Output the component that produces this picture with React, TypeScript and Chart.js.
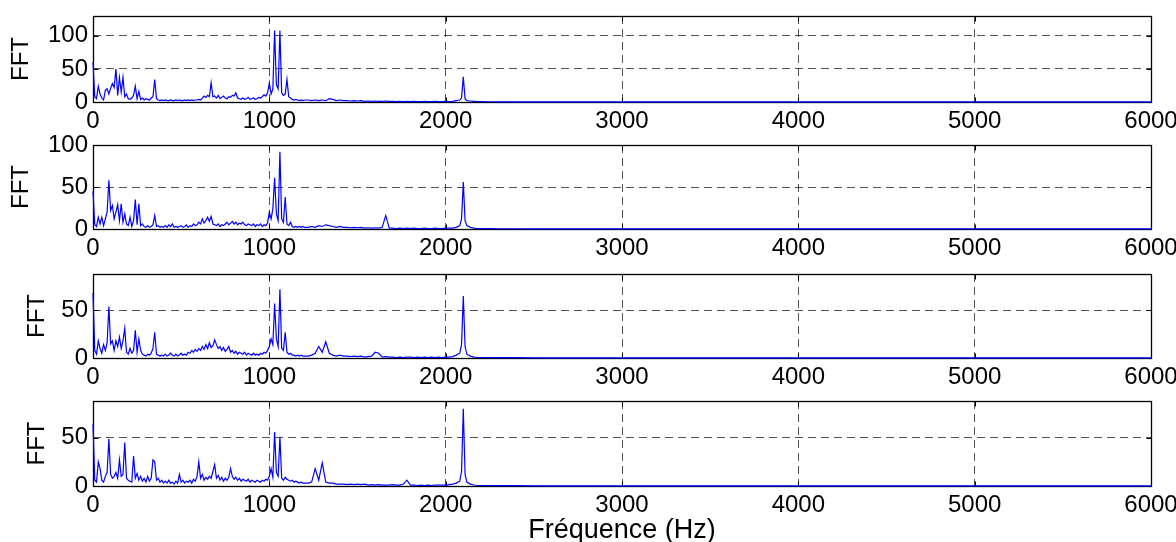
import React, { useEffect, useRef } from "react";
import { Chart, registerables } from "chart.js";
Chart.register(...registerables);

const FONT = "'Liberation Sans', Arial, Helvetica, sans-serif";

// Frequency grid (Hz)
const freqLow = [
  0, 10, 20, 30, 40, 50, 60, 70, 80, 90,
  100, 110, 120, 130, 140, 150, 160, 170, 180, 190,
  200, 210, 220, 230, 240, 250, 260, 270, 280, 290,
  300, 310, 320, 330, 340, 350, 360, 370, 380, 390,
  400, 410, 420, 430, 440, 450, 460, 470, 480, 490,
  500, 510, 520, 530, 540, 550, 560, 570, 580, 590,
  600, 610, 620, 630, 640, 650, 660, 670, 680, 690,
  700, 710, 720, 730, 740, 750, 760, 770, 780, 790,
  800, 810, 820, 830, 840, 850, 860, 870, 880, 890,
  900, 910, 920, 930, 940, 950, 960, 970, 980, 990,
  1000, 1010, 1020, 1030, 1040, 1050, 1060, 1070, 1080, 1090,
  1100, 1110, 1120, 1130, 1140, 1150, 1160, 1170, 1180, 1190,
  1200,
];
const freqMid = [
  1220, 1240, 1260, 1280, 1300, 1320, 1340, 1360, 1380, 1400,
  1420, 1440, 1460, 1480, 1500, 1520, 1540, 1560, 1580, 1600,
  1620, 1640, 1660, 1680, 1700, 1720, 1740, 1760, 1780, 1800,
  1820, 1840, 1860, 1880, 1900, 1920, 1940, 1960, 1980, 2000,
  2020, 2040, 2060, 2080, 2090, 2100, 2110, 2120, 2140, 2160, 2180, 2200,
];
const freqTail = [2250, 2300, 2400, 2500, 3000, 3500, 4000, 4500, 5000, 5500, 6000];
const ampTail = [0.4, 0.3, 0.3, 0.2, 0.2, 0.1, 0.1, 0.1, 0.1, 0.1, 0.1];

// Panel 1
const amp1Low = [
  60, 8, 5, 24, 12, 6, 3, 18, 20, 12,
  21, 28, 22, 50, 10, 37, 15, 37, 8, 12,
  5, 4, 6, 10, 24, 5, 16, 4, 6, 3,
  5, 4, 3, 6, 8, 34, 5, 3, 2, 3,
  2, 3, 2, 2, 3, 2, 2, 3, 2, 3,
  2, 2, 3, 2, 3, 2, 3, 2, 3, 3,
  4, 3, 6, 9, 7, 10, 8, 29, 8, 9,
  6, 10, 5, 7, 9, 6, 5, 8, 7, 10,
  9, 14, 6, 5, 4, 6, 4, 5, 7, 4,
  5, 6, 4, 5, 7, 6, 8, 11, 9, 14,
  29, 12, 20, 108, 26, 20, 108, 14, 10, 12,
  34, 8, 6, 4, 3, 4, 3, 2, 3, 2,
  3,
];
const amp1Mid = [
  3, 2, 3, 2, 3, 2, 5, 4, 2, 3,
  2, 2, 1.5, 2, 1.5, 2, 1, 1.5, 1, 1.5,
  1, 1, 1.5, 1, 1, 0.5, 1, 0.5, 1, 0.5,
  1, 0.5, 0.5, 1, 0.5, 0.5, 1, 0.5, 0.5, 1,
  0.5, 1, 2, 3, 6, 38, 5, 2, 1.5, 1, 0.5, 0.5,
];

// Panel 2
const amp2Low = [
  45, 5, 3, 14, 6, 14, 4, 12, 20, 58,
  22, 28, 12, 20, 29, 10, 30, 8, 18, 6,
  4, 14, 3, 10, 35, 5, 30, 4, 6, 3,
  2, 4, 2, 3, 5, 16, 3, 4, 2, 3,
  2, 4, 2, 5, 3, 6, 2, 3, 2, 3,
  4, 2, 3, 5, 2, 4, 3, 6, 4, 5,
  8, 6, 12, 7, 10, 14, 9, 15, 6, 5,
  4, 6, 3, 5, 4, 6, 8, 5, 7, 9,
  6, 8, 5, 7, 6, 8, 5, 4, 6, 5,
  4, 6, 3, 5, 4, 6, 3, 5, 4, 7,
  20, 12, 24, 61, 18, 10, 92, 12, 8, 38,
  6, 4, 8, 3, 2, 3, 2, 3, 2, 3,
  2,
];
const amp2Mid = [
  2, 3, 2, 4, 3, 5, 4, 3, 2, 3,
  2, 2, 1.5, 2, 1.5, 2, 1, 1.5, 1, 1.5,
  1, 2, 16, 1, 1, 0.5, 1, 0.5, 1, 0.5,
  1, 0.5, 0.5, 1, 0.5, 0.5, 1, 0.5, 0.5, 1,
  1, 1, 2, 4, 12, 56, 10, 4, 2, 1, 0.5, 0.5,
];

// Panel 3
const amp3Low = [
  68, 8, 4, 18, 10, 5, 14, 8, 16, 54,
  15, 18, 8, 18, 12, 22, 10, 18, 31, 6,
  4, 10, 5, 8, 29, 6, 20, 8, 4, 3,
  2, 4, 3, 5, 10, 27, 4, 3, 2, 3,
  2, 4, 2, 3, 5, 3, 2, 4, 2, 3,
  5, 3, 4, 3, 6, 5, 8, 6, 9, 7,
  10, 8, 12, 9, 14, 10, 16, 11, 13, 19,
  14, 10, 12, 8, 11, 7, 9, 12, 6, 8,
  5, 7, 4, 6, 5, 4, 6, 3, 5, 4,
  3, 5, 3, 4, 3, 5, 4, 6, 5, 8,
  12, 20, 14, 57, 20, 12, 72, 10, 8, 27,
  6, 4, 5, 3, 3, 2, 3, 2, 3, 2,
  2,
];
const amp3Mid = [
  2, 3, 5, 12, 6, 17, 5, 3, 2, 3,
  2, 2, 1.5, 2, 1.5, 2, 1, 1.5, 2, 6,
  5, 1, 1.5, 1, 1, 0.5, 1, 0.5, 1, 1,
  0.5, 1, 0.5, 1, 0.5, 1, 0.5, 1, 0.5, 1,
  1, 1.5, 3, 5, 14, 65, 12, 4, 2, 1, 0.5, 0.5,
];

// Panel 4
const amp4Low = [
  64, 6, 4, 25, 18, 6, 4, 10, 14, 49,
  12, 8, 10, 14, 8, 27, 10, 12, 45, 8,
  6, 5, 4, 31, 8, 13, 6, 10, 5, 8,
  4, 10, 5, 8, 27, 25, 6, 8, 4, 6,
  3, 5, 3, 6, 3, 4, 2, 5, 3, 12,
  4, 6, 3, 5, 4, 6, 3, 7, 5, 10,
  25, 8, 12, 6, 9, 7, 10, 8, 15, 22,
  8, 11, 6, 9, 5, 8, 6, 9, 18, 10,
  7, 9, 6, 8, 5, 7, 6, 5, 7, 4,
  6, 5, 4, 6, 5, 4, 6, 5, 7, 6,
  10, 18, 9, 56, 14, 10, 51, 8, 6, 9,
  7, 6, 5, 6, 4, 5, 4, 3, 4, 3,
  3,
];
const amp4Mid = [
  3, 4, 18, 6, 24, 4, 3, 3, 2, 2,
  2, 1.5, 2, 1.5, 2, 1.5, 2, 1, 1.5, 1,
  1.5, 1, 1, 1, 1.5, 1, 1, 2, 6, 1,
  1, 0.5, 1, 0.5, 1, 0.5, 1, 1, 1, 1,
  1.5, 2, 3, 5, 15, 80, 12, 4, 2, 1, 0.5, 0.5,
];

const xTicksHz = [0, 1000, 2000, 3000, 4000, 5000, 6000];
const yLabel = "FFT";
const xLabel = "Fréquence (Hz)";

const freqAll = [...freqLow, ...freqMid, ...freqTail];
const toPoints = (low: number[], mid: number[]) => {
  const amps = [...low, ...mid, ...ampTail];
  return freqAll.map((f, i) => ({ x: f, y: amps[i] }));
};

const frameTicks = {
  id: "frameTicks",
  beforeDatasetsDraw(chart: any) {
    const { ctx, chartArea: a, scales } = chart;
    const L = Math.round(a.left) + 0.5;
    const R = Math.round(a.right) + 0.5;
    const T = Math.round(a.top) + 0.5;
    const B = Math.round(a.bottom) + 0.5;
    ctx.save();
    ctx.strokeStyle = "#000";
    ctx.lineWidth = 1;
    ctx.setLineDash([]);
    const len = 5;
    ctx.beginPath();
    scales.x.ticks.forEach((t: any) => {
      const px = Math.round(scales.x.getPixelForValue(t.value)) + 0.5;
      ctx.moveTo(px, B);
      ctx.lineTo(px, B - len);
      ctx.moveTo(px, T);
      ctx.lineTo(px, T + len);
    });
    scales.y.ticks.forEach((t: any) => {
      const py = Math.round(scales.y.getPixelForValue(t.value)) + 0.5;
      ctx.moveTo(L, py);
      ctx.lineTo(L + len, py);
      ctx.moveTo(R, py);
      ctx.lineTo(R - len, py);
    });
    ctx.stroke();
    ctx.lineWidth = 1.3;
    ctx.strokeRect(L, T, R - L, B - T);
    ctx.restore();
  },
};

type PanelProps = {
  top: number;
  padTop: number;
  plotH: number;
  xH: number;
  yMax: number;
  titlePad: number;
  low: number[];
  mid: number[];
  showTitle: boolean;
};

const CANVAS_W = 1200;
const PLOT_LEFT = 93;
const PLOT_RIGHT = 1151;

function Panel(p: PanelProps) {
  const ref = useRef<HTMLCanvasElement | null>(null);
  const H = p.padTop + p.plotH + p.xH;
  useEffect(() => {
    if (!ref.current) return;
    const gridColor = (ctx: any) => {
      const v = ctx.tick ? ctx.tick.value : null;
      if (v === 0 || v === 6000) return "rgba(0,0,0,0)";
      return "rgba(0,0,0,0.68)";
    };
    const chart = new Chart(ref.current, {
      type: "line",
      data: {
        datasets: [
          {
            data: toPoints(p.low, p.mid),
            borderColor: "#0000ff",
            borderWidth: 1.2,
            pointRadius: 0,
            tension: 0,
            clip: false as any,
          },
        ],
      },
      options: {
        animation: false,
        responsive: false,
        devicePixelRatio: 1,
        events: [],
        layout: { padding: { top: p.padTop, right: CANVAS_W - PLOT_RIGHT, bottom: 0, left: 0 } },
        plugins: { legend: { display: false }, tooltip: { enabled: false } },
        scales: {
          x: {
            type: "linear",
            min: 0,
            max: 6000,
            afterBuildTicks: (s: any) => {
              s.ticks = xTicksHz.map((v) => ({ value: v }));
            },
            afterFit: (s: any) => {
              s.height = p.xH;
            },
            grid: { color: gridColor, drawTicks: false, lineWidth: 1 },
            border: { display: false, dash: [8, 5] },
            ticks: {
              color: "#000",
              font: { family: FONT, size: 24 },
              padding: 5,
              maxRotation: 0,
              autoSkip: false,
              callback: (v: any) => String(v),
            },
            title: {
              display: p.showTitle,
              text: xLabel,
              color: "#000",
              font: { family: FONT, size: 27 },
              padding: { top: 0, bottom: 13 },
            },
          },
          y: {
            type: "linear",
            min: 0,
            max: p.yMax,
            afterFit: (s: any) => {
              s.width = PLOT_LEFT;
            },
            grid: { color: gridColor, drawTicks: false, lineWidth: 1 },
            border: { display: false, dash: [8, 5] },
            ticks: {
              stepSize: 50,
              includeBounds: false,
              color: "#000",
              font: { family: FONT, size: 24 },
              padding: 5,
              callback: (v: any) => String(v),
            },
            title: {
              display: true,
              text: yLabel,
              color: "#000",
              font: { family: FONT, size: 24 },
              padding: { top: p.titlePad, bottom: 0 },
            },
          },
        },
      },
      plugins: [frameTicks],
    });
    return () => chart.destroy();
  }, []);
  return (
    <canvas
      ref={ref}
      width={CANVAS_W}
      height={H}
      style={{ position: "absolute", left: 0, top: p.top, width: CANVAS_W, height: H }}
    />
  );
}

export default function App() {
  return (
    <div
      style={{
        position: "fixed",
        left: 0,
        top: 0,
        width: 1176,
        height: 542,
        overflow: "hidden",
        background: "#fff",
      }}
    >
      <Panel top={-4} padTop={20} plotH={86} xH={32} yMax={130} titlePad={7} low={amp1Low} mid={amp1Mid} showTitle={false} />
      <Panel top={125} padTop={20} plotH={84} xH={32} yMax={100} titlePad={7} low={amp2Low} mid={amp2Mid} showTitle={false} />
      <Panel top={254} padTop={20} plotH={84} xH={32} yMax={88} titlePad={23} low={amp3Low} mid={amp3Mid} showTitle={false} />
      <Panel top={381} padTop={20} plotH={85} xH={74} yMax={88} titlePad={23} low={amp4Low} mid={amp4Mid} showTitle={true} />
    </div>
  );
}
